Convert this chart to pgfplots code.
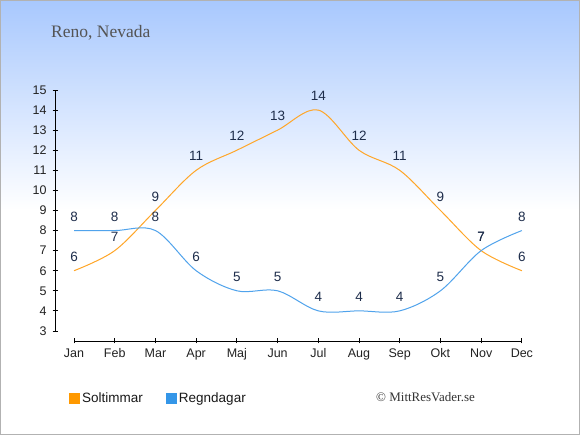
\documentclass[border=0pt]{standalone}
\usepackage{fontspec}
\setmainfont{Liberation Sans}
\newfontfamily\serif{Liberation Serif}
\usepackage{pgfplots}
\pgfplotsset{compat=1.18}
\definecolor{topblue}{RGB}{168,200,254}
\definecolor{solline}{RGB}{255,166,40}
\definecolor{rainline}{RGB}{80,163,236}
\definecolor{solleg}{RGB}{255,153,0}
\definecolor{rainleg}{RGB}{52,150,232}
\definecolor{lblcol}{RGB}{30,45,75}
\definecolor{tickcol}{RGB}{34,34,34}
\begin{document}
\begin{tikzpicture}
\fill[white] (0,0) rectangle (580pt,435pt);
\shade[top color=topblue, bottom color=white] (0,225pt) rectangle (580pt,435pt);
\draw[black!30, line width=1.2pt] (0.6pt,0.6pt) rectangle (579.4pt,434.4pt);
\node[anchor=base west, inner sep=0pt, font=\serif\fontsize{17.5}{20}\selectfont, text=black!67] at (51pt,397pt) {Reno, Nevada};
\node[anchor=west, inner sep=0pt, font=\serif\fontsize{13}{15}\selectfont, text=black!80] at (376pt,37.5pt) {© MittResVader.se};
\begin{axis}[
  at={(55pt,94pt)}, anchor=south west, scale only axis,
  width=475pt, height=251pt,
  xmin=-0.467, xmax=11.2, ymin=2.5, ymax=15,
  xtick={0,...,11},
  xticklabels={Jan,Feb,Mar,Apr,Maj,Jun,Jul,Aug,Sep,Okt,Nov,Dec},
  ytick={3,...,15},
  xtick pos=bottom, ytick pos=left,
  axis line style={draw=none},
  tick style={black, line width=0.8pt},
  tick align=center, major tick length=5pt,
  /pgf/number format/assume math mode=true,
  ticklabel style={font=\fontsize{12.5}{14}\selectfont, text=tickcol},
  xticklabel style={yshift=-1.5pt},
  yticklabel style={xshift=-2.5pt},
  clip=false,
  nodes near coords,
  every node near coord/.append style={font=\fontsize{13.5}{16}\selectfont, text=lblcol, anchor=center, yshift=14pt},
  legend columns=2,
  legend style={at={(axis description cs:0.0295,-0.229)}, anchor=west, draw=none, fill=none, inner sep=0pt,
    text=black!90,
    /tikz/every even column/.append style={column sep=21pt}},
]
\draw[black, line width=0.8pt] (axis cs:-0.467,3) -- (axis cs:-0.467,15);
\draw[black, line width=0.8pt] (axis cs:0,2.5) -- (axis cs:11,2.5);
\addplot[solline, line width=1pt, smooth, tension=0.55,
  legend image code/.code={\fill[solleg] (0pt,-5pt) rectangle (10pt,5pt);}]
  coordinates {(0,6) (1,7) (2,9) (3,11) (4,12) (5,13) (6,14) (7,12) (8,11) (9,9) (10,7) (11,6)};
\addlegendentry{\fontsize{13.5}{16}\selectfont Soltimmar}
\addplot[rainline, line width=1pt, smooth, tension=0.55,
  legend image code/.code={\fill[rainleg] (0pt,-5pt) rectangle (10pt,5pt);}]
  coordinates {(0,8) (1,8) (2,8) (3,6) (4,5) (5,5) (6,4) (7,4) (8,4) (9,5) (10,7) (11,8)};
\addlegendentry{\fontsize{13.5}{16}\selectfont Regndagar}
\end{axis}
\end{tikzpicture}
\end{document}
